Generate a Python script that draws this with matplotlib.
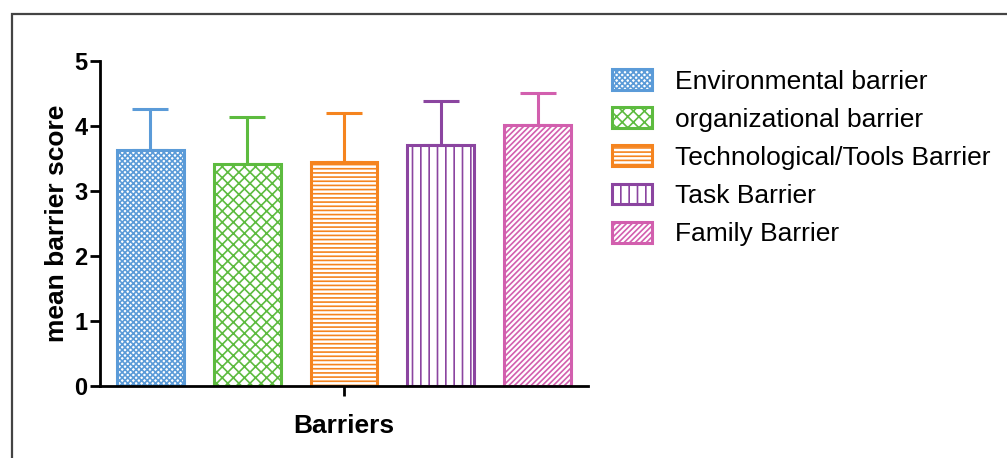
import matplotlib.pyplot as plt
from matplotlib.patches import Rectangle

plt.rcParams['font.family'] = ['Liberation Sans', 'DejaVu Sans']
plt.rcParams['hatch.linewidth'] = 1.2

categories = ["Environmental barrier", "organizational barrier",
              "Technological/Tools Barrier", "Task Barrier", "Family Barrier"]
means = [3.63, 3.42, 3.45, 3.71, 4.02]
errors = [0.63, 0.72, 0.75, 0.67, 0.49]
colors = ["#5b9bd8", "#5dbb3f", "#f5841f", "#8b45a0", "#d25fae"]
hatches = ["xxxxxx", "xxx", "----", "||", "//////"]

fig = plt.figure(figsize=(10.07, 4.58), dpi=100)
ax = fig.add_axes([0.0993, 0.1572, 0.4846, 0.7096])

# outer frame
fig.patches.append(Rectangle((12 / 1007, -0.1), 1.2, 1.1 - 14 / 458,
                             transform=fig.transFigure, fill=False,
                             edgecolor="#444444", linewidth=1.6))

x = range(len(categories))
for i in x:
    ax.bar(i, means[i], width=0.69, color="white", edgecolor=colors[i],
           hatch=hatches[i], linewidth=2.2, label=categories[i], zorder=2)
    ax.errorbar(i, means[i], yerr=[[0], [errors[i]]], color=colors[i],
                capsize=13, elinewidth=2.2, capthick=2.2, zorder=1)

ax.set_xlim(-0.52, 4.52)
ax.set_ylim(0, 5)
ax.set_yticks([0, 1, 2, 3, 4, 5])
ax.set_xticks([2])
ax.set_xticklabels([""])
ax.spines['top'].set_visible(False)
ax.spines['right'].set_visible(False)
ax.spines['left'].set_linewidth(2)
ax.spines['bottom'].set_linewidth(2)
ax.tick_params(axis='both', width=2, length=7, labelsize=17, pad=2)
for t in ax.get_yticklabels():
    t.set_fontweight('bold')
ax.set_ylabel("mean barrier score", fontsize=19, fontweight='bold', labelpad=4)
ax.set_xlabel("Barriers", fontsize=19, fontweight='bold', labelpad=11)

fig.legend(loc='upper left', bbox_to_anchor=(612 / 1007, 1 - 69 / 458),
           frameon=False, fontsize=19, borderpad=0, borderaxespad=0,
           handlelength=1.5, handleheight=0.83, handletextpad=0.87,
           labelspacing=0.52)

plt.savefig("out.png", dpi=100)
